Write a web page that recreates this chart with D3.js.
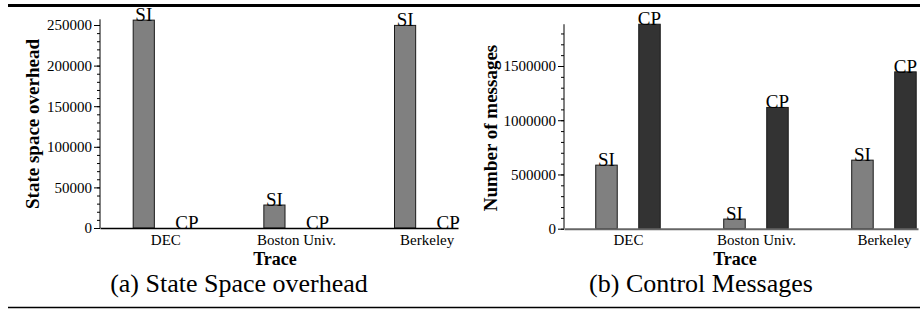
<!DOCTYPE html>
<html>
<head>
<meta charset="utf-8">
<script src="https://cdn.jsdelivr.net/npm/d3@7"></script>
<style>
  html, body { margin: 0; padding: 0; background: #fff; }
  svg { display: block; }
  svg text { font-family: "Liberation Serif", "Times New Roman", serif !important; }
</style>
</head>
<body>
<svg id="chart" width="920" height="309"></svg>
<script>
// ---- data ----
const categories = ["DEC", "Boston Univ.", "Berkeley"];
const seriesNames = ["SI", "CP"];
const stateSI = [256000, 28300, 249500];
const stateCP = [0, 0, 0];
const msgSI = [586000, 89000, 632000];
const msgCP = [1885000, 1118000, 1446000];
const stateTicks = [0, 50000, 100000, 150000, 200000, 250000];
const msgTicks = [0, 500000, 1000000, 1500000];
const captions = ["(a) State Space overhead", "(b) Control Messages"];
const yTitles = ["State space overhead", "Number of messages"];
const xTitle = "Trace";

const svg = d3.select("#chart");
const fillColors = { SI: "#808080", CP: "#333333" };
const SERIF = '"Liberation Serif", "Times New Roman", serif';

// rules
svg.append("line").attr("x1", 8).attr("x2", 920).attr("y1", 5.5).attr("y2", 5.5)
  .attr("stroke", "#000").attr("stroke-width", 3);
svg.append("line").attr("x1", 8).attr("x2", 920).attr("y1", 307.5).attr("y2", 307.5)
  .attr("stroke", "#000").attr("stroke-width", 1.5);

function panel(cfg) {
  const g = svg.append("g");
  const x = d3.scaleLinear().domain(cfg.xDomain).range([cfg.x0, cfg.x1]);
  const y = d3.scaleLinear().domain([0, cfg.yRef]).range([cfg.y0, cfg.yRefPx]);

  // minor ticks
  const minor = d3.range(0, cfg.yMax + 1, cfg.minorStep);
  g.append("g").attr("transform", `translate(${cfg.x0},0)`)
    .call(d3.axisLeft(y).tickValues(minor).tickSize(3).tickFormat(""))
    .call(s => s.select(".domain").remove())
    .call(s => s.selectAll("line").attr("stroke", "#000"));
  // major ticks
  g.append("g").attr("transform", `translate(${cfg.x0},0)`)
    .call(d3.axisLeft(y).tickValues(cfg.ticks).tickSize(6).tickPadding(2).tickFormat(d3.format("d")))
    .attr("font-family", null).attr("font-size", null)
    .call(s => s.select(".domain").remove())
    .call(s => s.selectAll("text").style("font-size", "15px").attr("fill", "#000")
      .style("font-family", SERIF));
  // y axis line
  g.append("line").attr("x1", cfg.x0).attr("x2", cfg.x0)
    .attr("y1", y(0)).attr("y2", y(cfg.yMax)).attr("stroke", "#000").attr("stroke-width", 1);

  // bars
  const off = cfg.offset, bw = cfg.barW;
  const data = [];
  categories.forEach((c, i) => {
    data.push({ s: seriesNames[0], i, v: cfg.si[i], pos: i - off });
    data.push({ s: seriesNames[1], i, v: cfg.cp[i], pos: i + off });
  });
  g.selectAll("rect.bar").data(data).join("rect").attr("class", "bar")
    .attr("x", d => x(d.pos - bw / 2))
    .attr("width", d => x(d.pos + bw / 2) - x(d.pos - bw / 2))
    .attr("y", d => y(d.v))
    .attr("height", d => y(0) - y(d.v))
    .attr("fill", d => fillColors[d.s])
    .attr("stroke", "#1a1a1a").attr("stroke-width", 1);
  g.selectAll("text.blab").data(data).join("text").attr("class", "blab")
    .attr("x", d => x(d.pos)).attr("y", d => y(d.v) + 1)
    .attr("text-anchor", "middle").style("font-size", "19px").attr("fill", "#000")
    .text(d => d.s);

  // x axis
  g.append("g").attr("transform", `translate(0,${y(0)})`)
    .call(d3.axisBottom(x).tickValues(d3.range(categories.length)).tickSize(0).tickSizeOuter(0)
      .tickPadding(6).tickFormat(i => categories[i]))
    .attr("font-family", null).attr("font-size", null)
    .call(s => s.select(".domain").attr("stroke", cfg.xAxisColor).attr("stroke-width", cfg.xAxisW))
    .call(s => s.selectAll("text").style("font-size", "15px").attr("fill", "#000")
      .style("font-family", SERIF));

  // titles
  g.append("text").attr("x", cfg.traceX).attr("y", 265).attr("text-anchor", "middle")
    .style("font-size", "18px").attr("font-weight", "bold").text(xTitle);
  g.append("text").attr("transform", `translate(${cfg.yTitleX},${cfg.yTitleY}) rotate(-90)`)
    .attr("text-anchor", "middle").style("font-size", "19px").attr("font-weight", "bold").text(cfg.yTitle);
  g.append("text").attr("x", cfg.capX).attr("y", 292).attr("text-anchor", "middle")
    .style("font-size", "26px").text(cfg.caption);
}

panel({
  x0: 100, x1: 458, xDomain: [-0.5, 2.24],
  y0: 228, yRef: 250000, yRefPx: 25, yMax: 257000, minorStep: 10000,
  ticks: stateTicks, si: stateSI, cp: stateCP,
  offset: 0.165, barW: 0.162, xAxisColor: "#000", xAxisW: 1.5,
  traceX: 275, yTitleX: 39, yTitleY: 124, yTitle: yTitles[0],
  capX: 239, caption: captions[0]
});
panel({
  x0: 564, x1: 918, xDomain: [-0.5, 2.266],
  y0: 228.7, yRef: 1500000, yRefPx: 66, yMax: 1885000, minorStep: 100000,
  ticks: msgTicks, si: msgSI, cp: msgCP,
  offset: 0.168, barW: 0.168, xAxisColor: "#666", xAxisW: 2,
  traceX: 735, yTitleX: 497, yTitleY: 128, yTitle: yTitles[1],
  capX: 701, caption: captions[1]
});
</script>
</body>
</html>
